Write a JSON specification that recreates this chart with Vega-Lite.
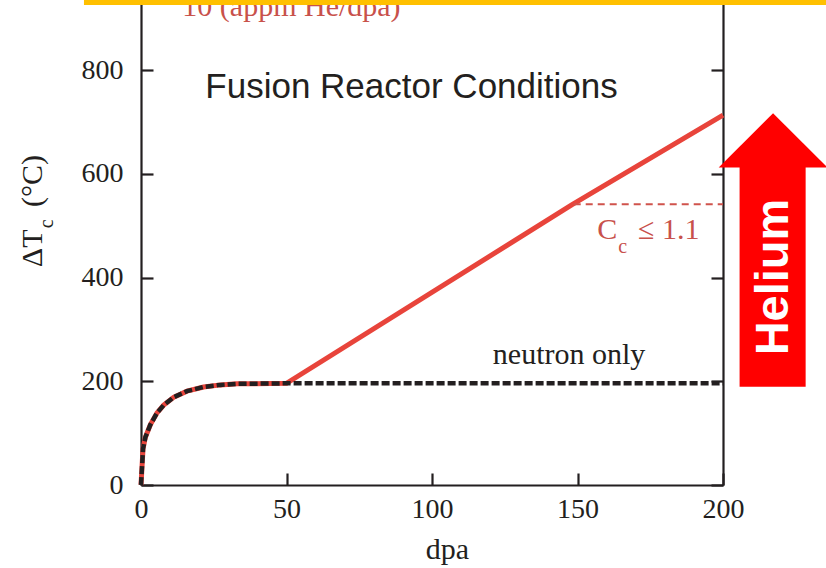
{
  "$schema": "https://vega.github.io/schema/vega-lite/v6.json",
  "width": 582,
  "height": 485,
  "autosize": {"type": "none"},
  "padding": {"left": 141, "top": 0, "right": 103, "bottom": 83},
  "background": "white",
  "config": {
    "view": {"stroke": null},
    "font": "Liberation Serif",
    "axis": {
      "grid": false,
      "labelFont": "Liberation Serif",
      "labelFontSize": 28,
      "labelColor": "#231f20",
      "labelFlush": false,
      "labelOverlap": false,
      "labelBound": false,
      "domainColor": "#231f20",
      "domainWidth": 2.2,
      "tickColor": "#231f20",
      "tickWidth": 2.2,
      "tickSize": -12,
      "titleFont": "Liberation Serif",
      "titleFontSize": 30,
      "titleFontWeight": "normal",
      "titleColor": "#231f20"
    }
  },
  "datasets": {
    "curves": [
      {"dpa": 0, "dT": 0, "series": "He"},
      {"dpa": 0.3, "dT": 30, "series": "He"},
      {"dpa": 0.7, "dT": 70, "series": "He"},
      {"dpa": 1.5, "dT": 92, "series": "He"},
      {"dpa": 3.2, "dT": 116, "series": "He"},
      {"dpa": 5.5, "dT": 139, "series": "He"},
      {"dpa": 7.8, "dT": 154, "series": "He"},
      {"dpa": 11.2, "dT": 169, "series": "He"},
      {"dpa": 15.8, "dT": 181, "series": "He"},
      {"dpa": 21.5, "dT": 189, "series": "He"},
      {"dpa": 27.3, "dT": 193, "series": "He"},
      {"dpa": 33, "dT": 195, "series": "He"},
      {"dpa": 50, "dT": 196, "series": "He"},
      {"dpa": 148, "dT": 540, "series": "He"},
      {"dpa": 200, "dT": 713, "series": "He"},
      {"dpa": 0, "dT": 0, "series": "neutron"},
      {"dpa": 0.3, "dT": 30, "series": "neutron"},
      {"dpa": 0.7, "dT": 70, "series": "neutron"},
      {"dpa": 1.5, "dT": 92, "series": "neutron"},
      {"dpa": 3.2, "dT": 116, "series": "neutron"},
      {"dpa": 5.5, "dT": 139, "series": "neutron"},
      {"dpa": 7.8, "dT": 154, "series": "neutron"},
      {"dpa": 11.2, "dT": 169, "series": "neutron"},
      {"dpa": 15.8, "dT": 181, "series": "neutron"},
      {"dpa": 21.5, "dT": 189, "series": "neutron"},
      {"dpa": 27.3, "dT": 193, "series": "neutron"},
      {"dpa": 33, "dT": 195, "series": "neutron"},
      {"dpa": 50, "dT": 196, "series": "neutron"},
      {"dpa": 200, "dT": 196, "series": "neutron"},
      {"dpa": 148.7, "dT": 541, "series": "Cc"},
      {"dpa": 200, "dT": 541, "series": "Cc"}
    ]
  },
  "resolve": {"axis": {"x": "independent", "y": "independent"}},
  "layer": [
    {
      "data": {"name": "curves"},
      "transform": [{"filter": "datum.series === 'He'"}],
      "mark": {"type": "line", "color": "#e8443b", "strokeWidth": 5, "strokeCap": "butt", "clip": false},
      "encoding": {
        "x": {
          "field": "dpa", "type": "quantitative",
          "scale": {"domain": [0, 200], "nice": false, "zero": false},
          "axis": {
            "values": [0, 50, 100, 150, 200],
            "title": "dpa",
            "labelPadding": 22,
            "titleX": 306,
            "titleY": 73,
            "titleBaseline": "alphabetic"
          }
        },
        "y": {
          "field": "dT", "type": "quantitative",
          "scale": {"domain": [0, 935], "nice": false, "zero": false},
          "axis": {"values": [0, 200, 400, 600, 800], "title": null, "labelPadding": 30}
        }
      }
    },
    {
      "data": {"name": "curves"},
      "transform": [{"filter": "datum.series === 'neutron'"}],
      "mark": {"type": "line", "color": "#231f20", "strokeWidth": 4.5, "strokeDash": [8, 3], "strokeCap": "butt", "clip": false},
      "encoding": {
        "x": {"field": "dpa", "type": "quantitative", "axis": null},
        "y": {
          "field": "dT", "type": "quantitative",
          "axis": {"orient": "right", "values": [0, 200, 400, 600, 800], "labels": false, "title": null}
        }
      }
    },
    {
      "data": {"name": "curves"},
      "transform": [{"filter": "datum.series === 'Cc'"}],
      "mark": {"type": "line", "color": "#d0534c", "strokeWidth": 2, "strokeDash": [7, 5], "clip": false},
      "encoding": {
        "x": {"field": "dpa", "type": "quantitative", "axis": null},
        "y": {"field": "dT", "type": "quantitative", "axis": null}
      }
    },
    {
      "data": {"values": [{}]},
      "mark": {"type": "text", "text": "10 (appm He/dpa)", "font": "Liberation Serif", "fontSize": 30, "color": "#c8514b", "align": "left", "baseline": "alphabetic", "clip": false},
      "encoding": {"x": {"datum": 14.2, "type": "quantitative", "axis": null}, "y": {"datum": 904, "type": "quantitative", "axis": null}}
    },
    {
      "data": {"values": [{}]},
      "mark": {"type": "text", "text": "Fusion Reactor Conditions", "font": "Liberation Sans", "fontSize": 35, "color": "#231f20", "align": "left", "baseline": "alphabetic", "clip": false},
      "encoding": {"x": {"datum": 22.1, "type": "quantitative", "axis": null}, "y": {"datum": 747, "type": "quantitative", "axis": null}}
    },
    {
      "data": {"values": [{}]},
      "mark": {"type": "text", "text": "neutron only", "font": "Liberation Serif", "fontSize": 30, "color": "#231f20", "align": "right", "baseline": "alphabetic", "clip": false},
      "encoding": {"x": {"datum": 173.3, "type": "quantitative", "axis": null}, "y": {"datum": 233, "type": "quantitative", "axis": null}}
    },
    {
      "data": {"values": [{}]},
      "mark": {"type": "text", "text": "C", "font": "Liberation Serif", "fontSize": 30, "color": "#c8514b", "align": "left", "baseline": "alphabetic", "clip": false},
      "encoding": {"x": {"datum": 156.8, "type": "quantitative", "axis": null}, "y": {"datum": 474.2, "type": "quantitative", "axis": null}}
    },
    {
      "data": {"values": [{}]},
      "mark": {"type": "text", "text": "c", "font": "Liberation Serif", "fontSize": 20, "color": "#c8514b", "align": "left", "baseline": "alphabetic", "clip": false},
      "encoding": {"x": {"datum": 164.0, "type": "quantitative", "axis": null}, "y": {"datum": 447.2, "type": "quantitative", "axis": null}}
    },
    {
      "data": {"values": [{}]},
      "mark": {"type": "text", "text": "≤ 1.1", "font": "Liberation Serif", "fontSize": 30, "color": "#c8514b", "align": "right", "baseline": "alphabetic", "clip": false},
      "encoding": {"x": {"datum": 191.9, "type": "quantitative", "axis": null}, "y": {"datum": 474.2, "type": "quantitative", "axis": null}}
    },
    {
      "data": {"values": [{}]},
      "mark": {"type": "text", "text": "ΔT", "angle": 270, "font": "Liberation Serif", "fontSize": 30, "color": "#231f20", "align": "left", "baseline": "alphabetic", "clip": false},
      "encoding": {"x": {"datum": -33.9, "type": "quantitative", "axis": null}, "y": {"datum": 420, "type": "quantitative", "axis": null}}
    },
    {
      "data": {"values": [{}]},
      "mark": {"type": "text", "text": "c", "angle": 270, "font": "Liberation Serif", "fontSize": 20, "color": "#231f20", "align": "left", "baseline": "alphabetic", "clip": false},
      "encoding": {"x": {"datum": -30.1, "type": "quantitative", "axis": null}, "y": {"datum": 495, "type": "quantitative", "axis": null}}
    },
    {
      "data": {"values": [{}]},
      "mark": {"type": "text", "text": "(°C)", "angle": 270, "font": "Liberation Serif", "fontSize": 30, "color": "#231f20", "align": "left", "baseline": "alphabetic", "clip": false},
      "encoding": {"x": {"datum": -33.9, "type": "quantitative", "axis": null}, "y": {"datum": 536, "type": "quantitative", "axis": null}}
    },
    {
      "data": {"values": [{}]},
      "mark": {"type": "rect", "color": "#ff0000", "clip": false},
      "encoding": {
        "x": {"datum": 205.7, "type": "quantitative", "axis": null},
        "x2": {"datum": 228.4},
        "y": {"datum": 189.5, "type": "quantitative", "axis": null},
        "y2": {"datum": 613}
      }
    },
    {
      "data": {"values": [{}]},
      "mark": {"type": "point", "shape": "M-1,0.5L0,-0.5L1,0.5Z", "filled": true, "opacity": 1, "color": "#ff0000", "size": 11816, "strokeWidth": 0, "clip": false},
      "encoding": {
        "x": {"datum": 217.2, "type": "quantitative", "axis": null},
        "y": {"datum": 664.5, "type": "quantitative", "axis": null}
      }
    },
    {
      "data": {"values": [{}]},
      "mark": {"type": "text", "text": "Helium", "angle": 270, "font": "Liberation Sans", "fontWeight": "bold", "fontSize": 47, "color": "#ffffff", "align": "center", "baseline": "alphabetic", "clip": false},
      "encoding": {"x": {"datum": 222.4, "type": "quantitative", "axis": null}, "y": {"datum": 401, "type": "quantitative", "axis": null}}
    },
    {
      "data": {"values": [{}]},
      "mark": {"type": "rect", "color": "#ffc000", "clip": false},
      "encoding": {
        "x": {"datum": -19.6, "type": "quantitative", "axis": null},
        "x2": {"datum": 245},
        "y": {"datum": 925.3, "type": "quantitative", "axis": null},
        "y2": {"datum": 960}
      }
    }
  ]
}
